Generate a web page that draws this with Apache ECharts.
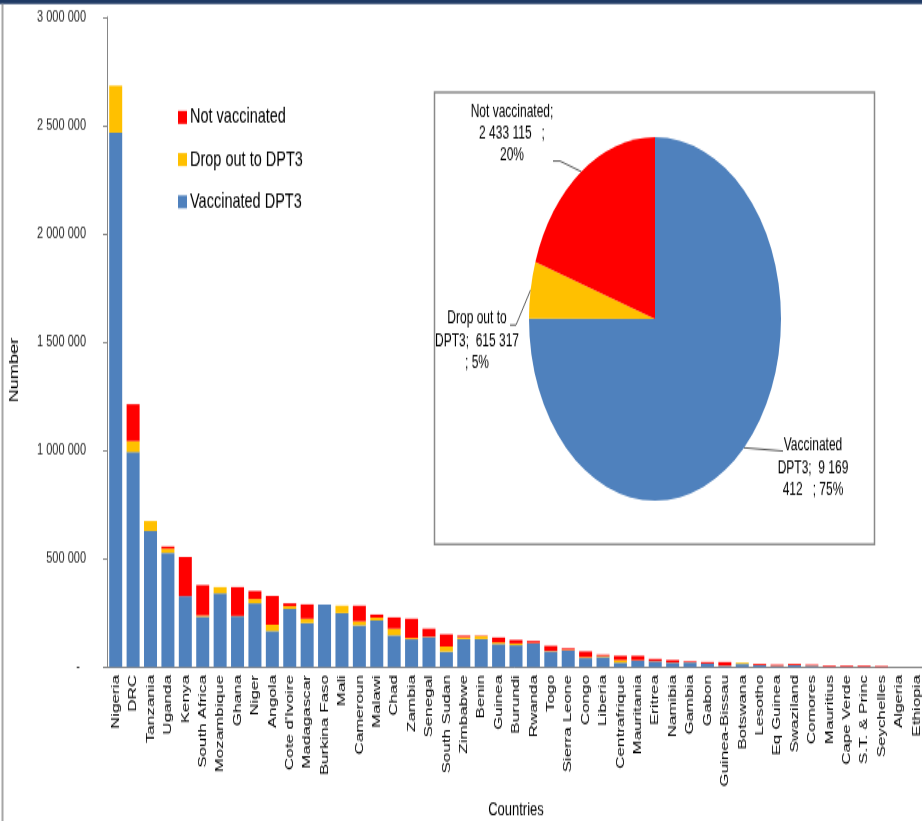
<!DOCTYPE html>
<html><head><meta charset="utf-8">
<script src="https://cdn.jsdelivr.net/npm/echarts@6/dist/echarts.min.js"></script>
<style>html,body{margin:0;padding:0;background:#fff;overflow:hidden;width:922px;height:821px}
#c{width:922px;height:569px;transform:scaleY(1.442882);transform-origin:0 0}</style>
</head><body><div id="c"></div>
<script>
const categories = ['Nigeria','DRC','Tanzania','Uganda','Kenya','South Africa','Mozambique','Ghana','Niger','Angola',"Cote d'Ivoire",'Madagascar','Burkina Faso','Mali','Cameroun','Malawi','Chad','Zambia','Senegal','South Sudan','Zimbabwe','Benin','Guinea','Burundi','Rwanda','Togo','Sierra Leone','Congo','Liberia','Centrafrique','Mauritania','Eritrea','Namibia','Gambia','Gabon','Guinea-Bissau','Botswana','Lesotho','Eq Guinea','Swaziland','Comores','Mauritius','Cape Verde','S.T. & Princ','Seychelles','Algeria','Ethiopia'];
const vaccinated = [2466000,992000,628000,527000,327000,232000,340000,234000,294000,166000,268000,203000,288000,249000,192000,215000,146000,128000,138000,71000,129000,129000,106000,101000,109000,72000,76000,41000,46000,20000,29000,26000,20000,21000,15000,6000,14000,9000,5000,9000,6000,1000,1000,1000,500,0,0];
const dropOut = [217000,51000,46000,19000,0,6000,29000,2000,20000,29000,13000,20000,0,34000,19000,13000,31000,6000,2000,24000,9000,14000,8000,8000,2000,2000,3000,5000,5000,12000,2000,1000,1000,1000,1000,1000,6000,1000,1000,1000,1000,0,0,0,0,0,0];
const notVaccinated = [0,170000,0,10000,181000,140000,0,133000,37000,133000,13000,66000,0,0,72000,14000,52000,89000,37000,56000,7000,2000,22000,16000,9000,24000,7000,26000,6000,20000,21000,10000,11000,4000,7000,16000,0,5000,5000,5000,4000,5000,5000,5000,4000,0,0];
const yTicks = [0,500000,1000000,1500000,2000000,2500000,3000000];
const pieNames = ['Vaccinated DPT3','Drop out to DPT3','Not vaccinated'];
const pieValues = [9169412,615317,2433115];

// The reference is an Excel chart stretched vertically; the canvas is drawn at
// 922x569 and stretched by CSS so text and the pie stretch the same way.
const S = 821/569;
const Y = v => v/S;           // reference-pixel y -> canvas y
const BLUE='#4F81BD', YELLOW='#FFC000', RED='#FF0000';
const FONT="'Liberation Sans',Arial,sans-serif";
function fmt(n){return String(n).replace(/\B(?=(\d{3})+(?!\d))/g,' ');}

const pieLabelLayout=[
  {x:813,y:Y(468),path:[[783,Y(451)]]},
  {x:477,y:Y(341),path:[[516,Y(325)],[510,Y(325)]]},
  {x:512,y:Y(134),path:[[560,Y(161)],[553,Y(161)]]}
];
function pieLabel(p){
  const s=fmt(p.value), pc=Math.round(p.percent);
  if(p.dataIndex===0){const q=s.split(' ');return 'Vaccinated\nDPT3;  '+q[0]+' '+q[1]+'\n'+q[2]+'   ; '+pc+'%';}
  if(p.dataIndex===1){return 'Drop out to\nDPT3;  '+s+'\n; '+pc+'%';}
  return 'Not vaccinated;\n'+s+'   ;\n'+pc+'%';
}

const chart=echarts.init(document.getElementById('c'),null,{renderer:'canvas'});
chart.setOption({
  animation:false,
  backgroundColor:'#fff',
  graphic:[
    {type:'rect',shape:{x:0,y:0,width:922,height:Y(4)},style:{fill:'#1F3A64'},z:0},
    {type:'line',shape:{x1:2.5,y1:Y(4),x2:2.5,y2:569},style:{stroke:'#A6A6A6',lineWidth:2},z:0},
    {type:'rect',shape:{x:434.5,y:Y(92.5),width:440,height:Y(452)},style:{fill:'#fff',stroke:'#898989',lineWidth:1.5},z:1},
    {type:'text',x:15,y:Y(370),rotation:Math.PI/2,style:{text:'Number',align:'center',verticalAlign:'middle',fontSize:12.5,fontFamily:FONT,fill:'#000'},z:1}
  ],
  legend:{data:['Not vaccinated','Drop out to DPT3','Vaccinated DPT3'],orient:'vertical',left:178,top:Y(117)-7.25,padding:0,itemWidth:9,itemHeight:9,itemGap:Y(41.5)-14.5,icon:'rect',
    textStyle:{fontSize:14.5,fontFamily:FONT,color:'#000',lineHeight:14.5,padding:[0,0,0,-2]}},
  grid:{left:107,right:-3,top:Y(17),bottom:569-Y(667),containLabel:false,outerBoundsMode:'none'},
  xAxis:{type:'category',data:categories,
    name:'Countries',nameLocation:'middle',nameGap:Y(800-667),nameTextStyle:{fontSize:13,fontFamily:FONT,color:'#000'},
    axisLine:{lineStyle:{color:'#868686'}},
    axisTick:{interval:0,length:Y(5),lineStyle:{color:'#868686'}},
    axisLabel:{interval:0,rotate:90,margin:Y(8),fontSize:11.8,fontFamily:FONT,color:'#000'}},
  yAxis:{type:'value',min:yTicks[0],max:yTicks[yTicks.length-1],interval:yTicks[1]-yTicks[0],
    axisLine:{show:true,lineStyle:{color:'#868686'}},
    axisTick:{show:true,length:4,lineStyle:{color:'#868686'}},
    splitLine:{show:false},
    axisLabel:{margin:21,fontSize:11,fontFamily:FONT,color:'#262626',formatter:v=>v===0?'-  ':fmt(v)}},
  series:[
    {name:'Vaccinated DPT3',type:'bar',stack:'a',data:vaccinated,barWidth:13,itemStyle:{color:BLUE}},
    {name:'Drop out to DPT3',type:'bar',stack:'a',data:dropOut,barWidth:13,itemStyle:{color:YELLOW}},
    {name:'Not vaccinated',type:'bar',stack:'a',data:notVaccinated,barWidth:13,itemStyle:{color:RED}},
    {name:'pie',type:'pie',z:10,center:[655,Y(319)],radius:126,startAngle:90,clockwise:true,avoidLabelOverlap:false,silent:true,
      data:pieNames.map((n,i)=>({name:n,value:pieValues[i],itemStyle:{color:[BLUE,YELLOW,RED][i]}})),
      label:{show:true,position:'outside',formatter:pieLabel,fontSize:12,fontFamily:FONT,color:'#000',lineHeight:Y(22),align:'center'},
      labelLine:{show:true,lineStyle:{color:'#595959',width:1}},
      labelLayout:function(p){
        const L=pieLabelLayout[p.dataIndex];
        const a=p.labelLinePoints?p.labelLinePoints[0]:null;
        const out={x:L.x,y:L.y,align:'center',verticalAlign:'middle'};
        if(a)out.labelLinePoints=[a].concat(L.path);
        return out;
      }}
  ]
});
</script></body></html>
